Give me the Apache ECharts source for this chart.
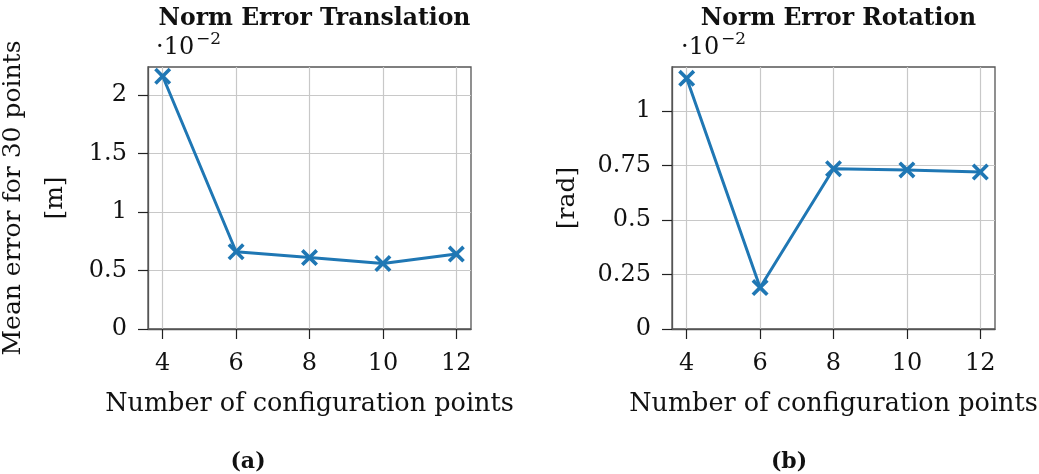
<!DOCTYPE html>
<html>
<head>
<meta charset="utf-8">
<script src="https://cdn.jsdelivr.net/npm/echarts@6/dist/echarts.min.js"></script>
<style>
  html, body { margin: 0; padding: 0; background: #fff; }
  #chart { width: 1039px; height: 474px; }
</style>
</head>
<body>
<div id="chart"></div>
<script>
// Number of configuration points (shared x values)
const configPoints = [4, 6, 8, 10, 12];
// Mean norm error of the translation, in units of 1e-2 m
const translationError = [2.16, 0.66, 0.61, 0.56, 0.64];
// Mean norm error of the rotation, in units of 1e-2 rad
const rotationError = [1.15, 0.19, 0.735, 0.73, 0.72];
// Tick values
const xTicks = [4, 6, 8, 10, 12];
const yTicksTranslation = [0, 0.5, 1, 1.5, 2];
const yTicksRotation = [0, 0.25, 0.5, 0.75, 1];

const FONT = "'DejaVu Serif', 'Liberation Serif', serif";
const LINE_COLOR = '#1f77b4';
const CROSS = 'path://M0,15L15,0L50,35L85,0L100,15L65,50L100,85L85,100L50,65L15,100L0,85L35,50Z';

function pairs(xs, ys) { return xs.map((x, i) => [x, ys[i]]); }

function xAxisDef(gridIndex) {
  return {
    type: 'value', gridIndex, min: 3.6, max: 12.4,
    name: 'Number of configuration points',
    nameLocation: 'middle', nameGap: 62,
    nameTextStyle: { fontFamily: FONT, fontSize: 25.5, color: '#111' },
    axisLine: { show: true, onZero: false, lineStyle: { color: '#555', width: 1.3 } },
    axisTick: { show: true, inside: false, length: 10, customValues: xTicks,
                lineStyle: { color: '#222', width: 1.2 } },
    axisLabel: { customValues: xTicks, margin: 23, fontFamily: FONT, fontSize: 24, color: '#111' },
    splitLine: { show: true, lineStyle: { color: '#c8c8c8', width: 1.2 } }
  };
}

function yAxisDef(gridIndex, max, ticks) {
  return {
    type: 'value', gridIndex, min: 0, max,
    axisLine: { show: true, onZero: false, lineStyle: { color: '#555', width: 1.3 } },
    axisTick: { show: true, inside: false, length: 10, customValues: ticks,
                lineStyle: { color: '#222', width: 1.2 } },
    axisLabel: { customValues: ticks, margin: 21, fontFamily: FONT, fontSize: 24, color: '#111',
                 formatter: v => String(v) },
    splitLine: { show: true, lineStyle: { color: '#c8c8c8', width: 1.2 } }
  };
}

function lineSeries(idx, ys) {
  return {
    type: 'line', xAxisIndex: idx, yAxisIndex: idx,
    data: pairs(configPoints, ys),
    symbol: CROSS, symbolSize: 17,
    itemStyle: { color: LINE_COLOR },
    lineStyle: { color: LINE_COLOR, width: 3 },
    animation: false, z: 5
  };
}

function txt(x, y, text, size, opts) {
  return Object.assign({
    type: 'text', x, y,
    style: Object.assign({ text, font: size + 'px ' + FONT, fill: '#111',
                           textAlign: 'center', textVerticalAlign: 'middle' }, opts && opts.style || {})
  }, opts && opts.el || {});
}

const chart = echarts.init(document.getElementById('chart'), null, { renderer: 'canvas' });
chart.setOption({
  backgroundColor: '#fff',
  animation: false,
  title: [
    { text: 'Norm Error Translation', left: 309.5, top: 2, textAlign: 'center',
      textStyle: { fontFamily: FONT, fontSize: 23.5, fontWeight: 'bold', color: '#111' } },
    { text: 'Norm Error Rotation', left: 833.5, top: 2, textAlign: 'center',
      textStyle: { fontFamily: FONT, fontSize: 23.5, fontWeight: 'bold', color: '#111' } }
  ],
  grid: [
    { left: 148, top: 67, width: 323, height: 262, show: true, borderColor: '#555', borderWidth: 1.3,
      outerBoundsMode: 'none', containLabel: false },
    { left: 672, top: 67, width: 323, height: 262, show: true, borderColor: '#555', borderWidth: 1.3,
      outerBoundsMode: 'none', containLabel: false }
  ],
  xAxis: [xAxisDef(0), xAxisDef(1)],
  yAxis: [yAxisDef(0, 2.239, yTicksTranslation), yAxisDef(1, 1.202, yTicksRotation)],
  series: [lineSeries(0, translationError), lineSeries(1, rotationError)],
  graphic: [
    // scale factors
    txt(156, 48, '·10', 24, { style: { textAlign: 'left' } }),
    txt(196, 40, '−2', 17, { style: { textAlign: 'left' } }),
    txt(681, 48, '·10', 24, { style: { textAlign: 'left' } }),
    txt(721, 40, '−2', 17, { style: { textAlign: 'left' } }),
    // y-axis titles
    txt(13, 198, 'Mean error for 30 points', 25, { el: { rotation: Math.PI / 2 } }),
    txt(55, 198, '[m]', 25, { el: { rotation: Math.PI / 2 } }),
    txt(567, 198, '[rad]', 25, { el: { rotation: Math.PI / 2 } }),
    // sub-captions
    txt(248, 462, '(a)', 22, { style: { font: 'bold 22px ' + FONT } }),
    txt(789, 462, '(b)', 22, { style: { font: 'bold 22px ' + FONT } })
  ]
});
</script>
</body>
</html>
